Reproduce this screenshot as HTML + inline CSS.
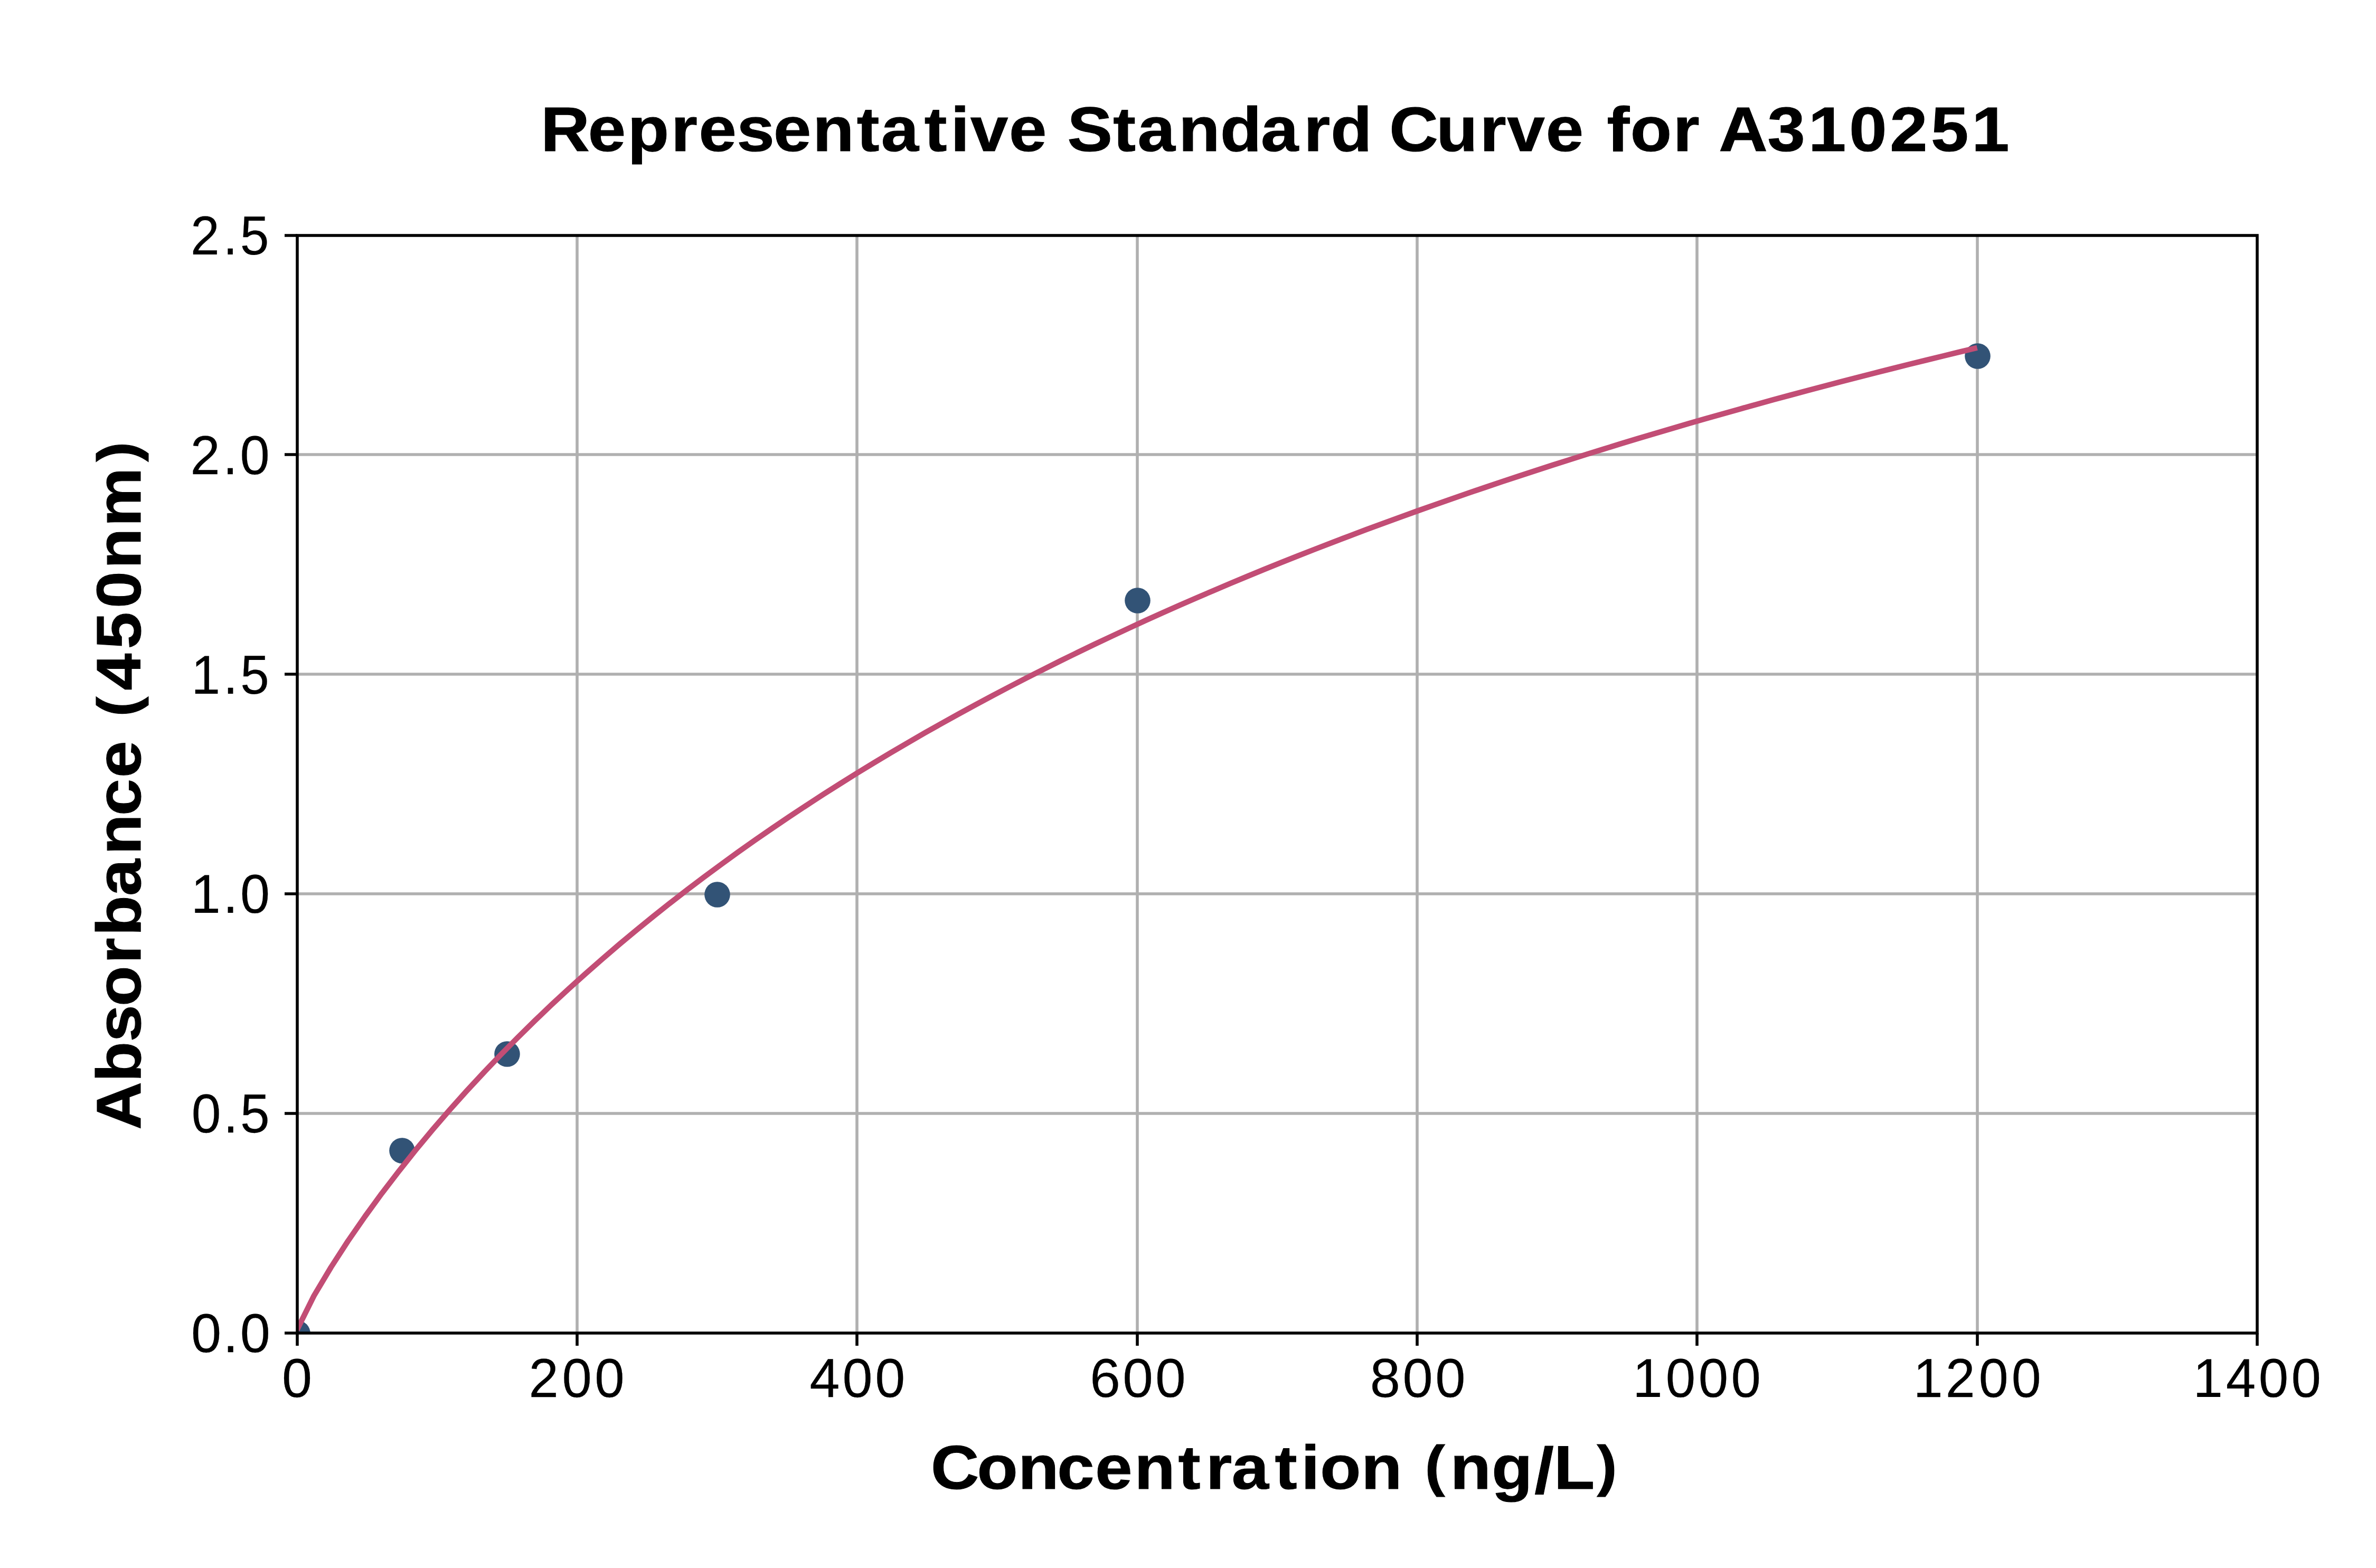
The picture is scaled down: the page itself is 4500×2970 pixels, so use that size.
<!DOCTYPE html><html><head><meta charset="utf-8"><style>html,body{margin:0;padding:0;background:#fff;overflow:hidden}svg{display:block}text{font-family:"Liberation Sans",sans-serif;fill:#000}</style></head><body>
<svg width="4500" height="2970" viewBox="0 0 4500 2970">
<rect width="4500" height="2970" fill="#fff"/>
<defs><clipPath id="ax"><rect x="562.5" y="445.5" width="3712.5" height="2079.0"/></clipPath></defs>
<path d="M1093 446V2525M1623 446V2525M2154 446V2525M2684 446V2525M3214 446V2525M3745 446V2525M563 2109H4275M563 1693H4275M563 1277H4275M563 861H4275" stroke="#b0b0b0" stroke-width="5.556" fill="none"/>
<g clip-path="url(#ax)" fill="#325376">
<circle cx="563.5" cy="2525.5" r="24.3"/>
<circle cx="761.5" cy="2179.5" r="24.3"/>
<circle cx="960.5" cy="1996.5" r="24.3"/>
<circle cx="1358.5" cy="1694.5" r="24.3"/>
<circle cx="2154.5" cy="1137.5" r="24.3"/>
<circle cx="3745.5" cy="674.5" r="24.3"/>
</g>
<polyline clip-path="url(#ax)" points="562.5,2519.0 594.6,2454.4 626.8,2400.5 658.9,2350.9 691.1,2304.4 723.2,2260.3 755.4,2218.3 787.5,2178.1 819.6,2139.4 851.8,2102.2 883.9,2066.3 916.1,2031.6 948.2,1998.0 980.4,1965.4 1012.5,1933.8 1044.6,1903.1 1076.8,1873.3 1108.9,1844.3 1141.1,1816.1 1173.2,1788.5 1205.4,1761.7 1237.5,1735.6 1269.6,1710.1 1301.8,1685.2 1333.9,1660.8 1366.1,1637.1 1398.2,1613.8 1430.4,1591.1 1462.5,1568.9 1494.6,1547.1 1526.8,1525.8 1558.9,1504.9 1591.1,1484.5 1623.2,1464.4 1655.4,1444.8 1687.5,1425.5 1719.6,1406.7 1751.8,1388.1 1783.9,1370.0 1816.1,1352.1 1848.2,1334.6 1880.4,1317.4 1912.5,1300.5 1944.6,1283.9 1976.8,1267.6 2008.9,1251.5 2041.1,1235.8 2073.2,1220.3 2105.4,1205.1 2137.5,1190.1 2169.6,1175.3 2201.8,1160.8 2233.9,1146.5 2266.1,1132.5 2298.2,1118.7 2330.4,1105.0 2362.5,1091.6 2394.6,1078.4 2426.8,1065.4 2458.9,1052.6 2491.1,1040.0 2523.2,1027.6 2555.4,1015.3 2587.5,1003.2 2619.6,991.3 2651.8,979.6 2683.9,968.0 2716.1,956.6 2748.2,945.3 2780.4,934.2 2812.5,923.2 2844.6,912.4 2876.8,901.7 2908.9,891.2 2941.1,880.8 2973.2,870.6 3005.4,860.4 3037.5,850.5 3069.6,840.6 3101.8,830.8 3133.9,821.2 3166.1,811.7 3198.2,802.3 3230.4,793.1 3262.5,783.9 3294.6,774.9 3326.8,765.9 3358.9,757.1 3391.1,748.4 3423.2,739.7 3455.4,731.2 3487.5,722.8 3519.6,714.5 3551.8,706.2 3583.9,698.1 3616.1,690.0 3648.2,682.1 3680.4,674.2 3712.5,666.4 3744.6,658.7" fill="none" stroke="#c24d75" stroke-width="10.417" stroke-linejoin="round" stroke-linecap="butt"/>
<rect x="563" y="446" width="3712" height="2079" fill="none" stroke="#000" stroke-width="5.556" stroke-linejoin="miter"/>
<path d="M563 2525v24M1093 2525v24M1623 2525v24M2154 2525v24M2684 2525v24M3214 2525v24M3745 2525v24M4275 2525v24M563 2525h-24M563 2109h-24M563 1693h-24M563 1277h-24M563 861h-24M563 446h-24" stroke="#000" stroke-width="5.556" fill="none"/>
<text x="941.2 1023.4 1092.4 1167.8 1216.1 1282.2 1346.1 1414.4 1491.0 1533.3 1608.7 1654.4 1688.8 1756.0 1825.4 1857.5 1937.3 1979.6 2051.2 2123.5 2194.3 2268.8 2315.8 2390.2 2417.8 2499.6 2575.4 2622.9 2690.2 2759.5 2796.5 2837.2 2911.6 2960.0 2991.2 3076.0 3147.1 3218.0 3288.9 3360.2 3431.2" y="286.0" font-size="117.8" font-weight="bold" stroke="#000" stroke-width="1.1" transform="scale(1.0883,1)">Representative Standard Curve for A310251</text>
<text x="1643.3 1724.9 1797.4 1866.3 1933.4 2002.8 2080.2 2128.9 2174.4 2250.7 2297.0 2330.6 2403.2 2477.6 2515.7 2560.3 2633.6 2709.1 2743.2 2819.3" y="2820.0" font-size="117.8" font-weight="bold" stroke="#000" stroke-width="1.1" transform="scale(1.0728,1)">Concentration <tspan y="2812.6" font-size="106.2">(</tspan><tspan y="2820.0">ng</tspan><tspan y="2827.9" font-size="122.6">/</tspan><tspan y="2820.0">L</tspan><tspan y="2812.6" font-size="106.2">)</tspan></text>
<text x="-2007.9 -1923.2 -1851.7 -1788.6 -1712.8 -1663.5 -1592.3 -1519.2 -1449.8 -1382.3 -1311.9 -1273.5 -1226.8 -1153.4 -1081.0 -1010.8 -935.9 -820.8" y="266.0" font-size="117.8" font-weight="bold" stroke="#000" stroke-width="1.1" transform="rotate(-90) scale(1.0657,1)">Absorbance <tspan y="258.6" font-size="106.2">(</tspan><tspan y="266.0">450nm</tspan><tspan y="258.6" font-size="106.2">)</tspan></text>
<text x="537.0" y="2645.6" font-size="103.1" stroke="#000" stroke-width="0.25" transform="scale(0.9945,1)">0</text>
<text x="1018.8 1083.0 1145.9" y="2645.6" font-size="103.1" stroke="#000" stroke-width="0.25" transform="scale(0.9829,1)">200</text>
<text x="1542.1 1604.3 1666.5" y="2645.6" font-size="103.1" stroke="#000" stroke-width="0.25" transform="scale(0.9945,1)">400</text>
<text x="2052.4 2113.9 2175.4" y="2645.6" font-size="103.1" stroke="#000" stroke-width="0.25" transform="scale(1.0058,1)">600</text>
<text x="2599.9 2661.8 2723.8" y="2645.6" font-size="103.1" stroke="#000" stroke-width="0.25" transform="scale(0.9980,1)">800</text>
<text x="3142.3 3205.7 3268.6 3331.4" y="2645.6" font-size="103.1" stroke="#000" stroke-width="0.25" transform="scale(0.9841,1)">1000</text>
<text x="3716.2 3778.8 3843.5 3907.0" y="2645.6" font-size="103.1" stroke="#000" stroke-width="0.25" transform="scale(0.9751,1)">1200</text>
<text x="4219.7 4283.0 4345.9 4408.7" y="2645.6" font-size="103.1" stroke="#000" stroke-width="0.25" transform="scale(0.9843,1)">1400</text>
<text x="363.1 423.9 456.1" y="2560.6" font-size="103.1" stroke="#000" stroke-width="0.25" transform="scale(0.9969,1)">0.0</text>
<text x="373.3 435.3 468.4" y="2144.6" font-size="103.1" stroke="#000" stroke-width="0.25" transform="scale(0.9715,1)">0.5</text>
<text x="369.9 432.2 465.3" y="1728.6" font-size="103.1" stroke="#000" stroke-width="0.25" transform="scale(0.9778,1)">1.0</text>
<text x="381.1 444.6 478.7" y="1313.6" font-size="103.1" stroke="#000" stroke-width="0.25" transform="scale(0.9512,1)">1.5</text>
<text x="367.4 430.3 463.2" y="897.6" font-size="103.1" stroke="#000" stroke-width="0.25" transform="scale(0.9810,1)">2.0</text>
<text x="378.1 442.3 476.2" y="481.6" font-size="103.1" stroke="#000" stroke-width="0.25" transform="scale(0.9551,1)">2.5</text>
</svg></body></html>
